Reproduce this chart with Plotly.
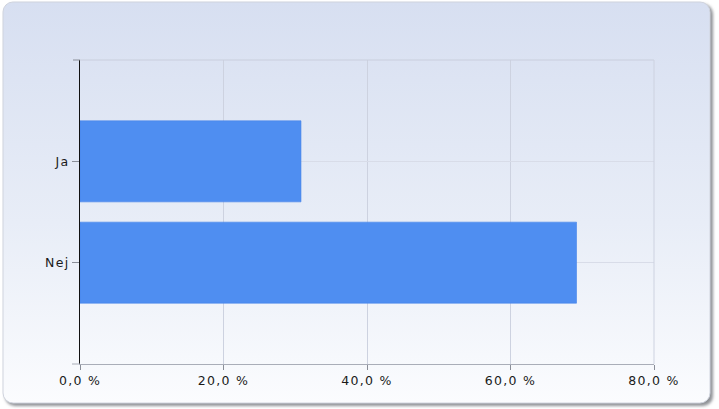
import base64
import plotly.graph_objects as go

categories = ["Ja", "Nej"]
values = [30.8, 69.2]
tick_values = [0, 20, 40, 60, 80]
tick_labels = ["0,0 %", "20,0 %", "40,0 %", "60,0 %", "80,0 %"]

W, H = 719, 409
L, R, T, B = 80, 65, 60, 45
pw, ph = W - L - R, H - T - B

svg = f"""<svg xmlns='http://www.w3.org/2000/svg' width='{W}' height='{H}' viewBox='0 0 {W} {H}' preserveAspectRatio='none'>
<defs>
<linearGradient id='g' x1='0' y1='0' x2='0' y2='1'>
<stop offset='0' stop-color='#d7dff1'/>
<stop offset='0.55' stop-color='#e8edf7'/>
<stop offset='1' stop-color='#fbfcfe'/>
</linearGradient>
<filter id='s' x='-5%' y='-5%' width='110%' height='110%'><feGaussianBlur stdDeviation='1.6'/></filter>
</defs>
<rect x='5' y='4' width='708' height='402' rx='10' ry='10' fill='#8f9296' filter='url(#s)'/>
<rect x='3' y='2' width='707' height='401' rx='10' ry='10' fill='url(#g)' stroke='#d0d4de' stroke-width='1'/>
</svg>"""
src = "data:image/svg+xml;base64," + base64.b64encode(svg.encode()).decode()

fig = go.Figure()
fig.add_trace(go.Bar(
    x=values, y=categories, orientation="h",
    marker=dict(color="#4f8ef1", line=dict(color="#4583ea", width=0.6)),
    width=0.8, hoverinfo="x+y",
))

tf = dict(family="DejaVu Sans", size=12.5, color="#1a1a1a")

fig.update_layout(
    width=W, height=H,
    margin=dict(l=L, r=R, t=T, b=B, pad=0),
    paper_bgcolor="white", plot_bgcolor="rgba(0,0,0,0)",
    showlegend=False,
    font=tf,
    images=[dict(source=src, xref="paper", yref="paper",
                 x=-L / pw, y=1 + T / ph, sizex=W / pw, sizey=H / ph,
                 xanchor="left", yanchor="top", sizing="stretch", layer="below")],
    xaxis=dict(range=[0, 80], tickvals=tick_values, ticktext=tick_labels,
               showgrid=True, gridcolor="#cdd2e0", gridwidth=1,
               zeroline=False, showline=True, linecolor="#a9adb8", linewidth=1,
               ticks="outside", ticklen=5, tickcolor="#8a8e98", tickfont=tf),
    yaxis=dict(type="category", categoryorder="array", categoryarray=categories,
               range=[2, -1], showgrid=True, gridcolor="#d8dce8", gridwidth=1,
               zeroline=False, showline=True, linecolor="#111111", linewidth=1,
               ticks="outside", ticklen=7, tickcolor="#8a8e98", tickfont=tf),
    shapes=[
        dict(type="line", xref="paper", yref="paper", x0=0, x1=1, y0=1, y1=1,
             line=dict(color="#c9cedd", width=1)),
        dict(type="line", xref="paper", yref="paper", x0=1, x1=1, y0=0, y1=1,
             line=dict(color="#cdd2e0", width=1)),
        dict(type="line", xref="paper", yref="paper", x0=-7 / pw, x1=0, y0=1, y1=1,
             line=dict(color="#8a8e98", width=1)),
        dict(type="line", xref="paper", yref="paper", x0=-8 / pw, x1=0, y0=0, y1=0,
             line=dict(color="#a9adb8", width=1)),
    ],
)

post = (
    "document.body.style.margin='0';document.body.style.overflow='hidden';"
    "document.querySelectorAll('.xtick text, .ytick text').forEach(function(t){"
    "t.style.letterSpacing='1.3px';});"
)
fig.write_html("out.html", config={"displayModeBar": False}, post_script=post)
